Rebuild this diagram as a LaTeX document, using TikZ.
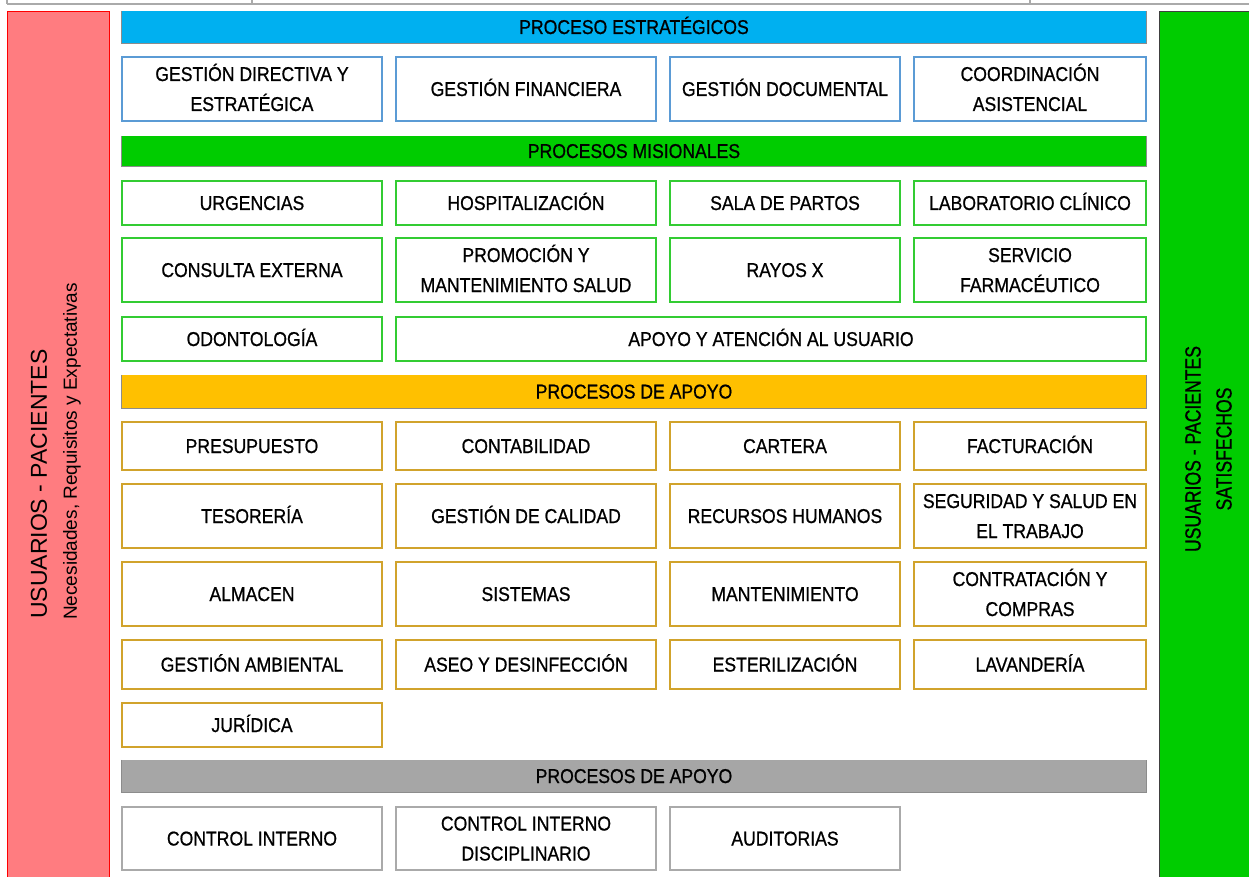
\documentclass[tikz,border=0pt]{standalone}
\usepackage{fontspec}
\setmainfont{Liberation Sans}
\newfontfamily\cellfont[FakeStretch=0.88,FakeBold=0.8]{Liberation Sans}
\newfontfamily\sidefont[FakeStretch=0.8,FakeBold=0.8]{Liberation Sans}

\definecolor{redbar}{HTML}{FF7C80}
\definecolor{greenbar}{HTML}{00CC00}
\definecolor{bluehead}{HTML}{00B0F0}
\definecolor{orangehead}{HTML}{FFC000}
\definecolor{grayhead}{HTML}{A6A6A6}
\definecolor{headline}{HTML}{8C8C8C}
\definecolor{blueline}{HTML}{5B9BD5}
\definecolor{greenline}{HTML}{33CC33}
\definecolor{orangeline}{HTML}{D1A32C}
\definecolor{grayline}{HTML}{AAAAAA}

\tikzset{
	cell/.style={draw=#1, line width=1.2pt, fill=white, inner sep=0pt, align=center,
		text height=14, text depth=0, font=\cellfont\fontsize{20}{30}\selectfont},
	two/.style={text height=44, text depth=0},
	head/.style={fill=#1, inner sep=0pt, minimum width=1024, minimum height=32,
		text height=14, text depth=0, font=\cellfont\fontsize{20}{30}\selectfont},
	wide/.style={minimum width=260},
	narrow/.style={minimum width=230},
	last/.style={minimum width=232}
}

\begin{document}
\begin{tikzpicture}[x=1pt,y=-1pt]
	\useasboundingbox (0,0) rectangle (1249,877);
	%Top cells
	\draw [grayline, line width=1.5pt] (7,4) to (1249,4);
	\draw [grayline, line width=1.2pt] (7,0) to (7,4);
	\draw [grayline, line width=1.2pt] (252,0) to (252,4);
	\draw [grayline, line width=1.2pt] (1030,0) to (1030,4);
	%Side bars
	\node [fill=redbar, draw=red, line width=1pt, minimum width=102, minimum height=870, inner sep=0pt, anchor=north west] (users) at (7,11) {};
	\node [rotate=90, anchor=west, inner sep=0pt, font=\fontsize{23}{24}\selectfont] (usrtxt) at (39,619) {USUARIOS - PACIENTES};
	\node [rotate=90, anchor=west, inner sep=0pt, font=\fontsize{19}{24}\selectfont] (needtxt) at (72,620) {Necesidades, Requisitos y Expectativas};
	\node [fill=greenbar, draw=black!75, line width=1pt, minimum width=95, minimum height=870, inner sep=0pt, anchor=north west] (satisfied) at (1159,11) {};
	\node [rotate=90, inner sep=0pt, font=\sidefont\fontsize{22}{24}\selectfont] (sattxt) at (1193,449) {USUARIOS - PACIENTES};
	\node [rotate=90, inner sep=0pt, font=\sidefont\fontsize{22}{24}\selectfont] (sattxtb) at (1224,449) {SATISFECHOS};
	%Strategic processes
	\node [head=bluehead] (strat) at (634,27) {PROCESO ESTRATÉGICOS};
	\draw [headline, line width=1.2pt] (strat.north west) |- (strat.south east) -- (strat.north east);
	\node [cell=blueline, two, wide, minimum height=64] (gdir) at (252,89) {GESTIÓN DIRECTIVA Y\\ESTRATÉGICA};
	\node [cell=blueline, wide, minimum height=64] (gfin) at (526,89) {GESTIÓN FINANCIERA};
	\node [cell=blueline, narrow, minimum height=64] (gdoc) at (785,89) {GESTIÓN DOCUMENTAL};
	\node [cell=blueline, two, last, minimum height=64] (coord) at (1030,89) {COORDINACIÓN\\ASISTENCIAL};
	%Missional processes
	\node [head=greenbar, minimum height=30] (mision) at (634,151) {PROCESOS MISIONALES};
	\draw [headline, line width=1.2pt] (mision.north west) |- (mision.south east) -- (mision.north east);
	\node [cell=greenline, wide, minimum height=44] (urg) at (252,203) {URGENCIAS};
	\node [cell=greenline, wide, minimum height=44] (hosp) at (526,203) {HOSPITALIZACIÓN};
	\node [cell=greenline, narrow, minimum height=44] (partos) at (785,203) {SALA DE PARTOS};
	\node [cell=greenline, last, minimum height=44] (lab) at (1030,203) {LABORATORIO CLÍNICO};
	\node [cell=greenline, wide, minimum height=64] (consulta) at (252,270) {CONSULTA EXTERNA};
	\node [cell=greenline, two, wide, minimum height=64] (promo) at (526,270) {PROMOCIÓN Y\\MANTENIMIENTO SALUD};
	\node [cell=greenline, narrow, minimum height=64] (rayos) at (785,270) {RAYOS X};
	\node [cell=greenline, two, last, minimum height=64] (farma) at (1030,270) {SERVICIO\\FARMACÉUTICO};
	\node [cell=greenline, wide, minimum height=44] (odonto) at (252,339) {ODONTOLOGÍA};
	\node [cell=greenline, minimum width=750, minimum height=44] (apoyousr) at (771,339) {APOYO Y ATENCIÓN AL USUARIO};
	%Support processes
	\node [head=orangehead, minimum height=33] (apoyo) at (634,391.5) {PROCESOS DE APOYO};
	\draw [headline, line width=1.2pt] (apoyo.north west) |- (apoyo.south east) -- (apoyo.north east);
	\node [cell=orangeline, wide, minimum height=48] (presup) at (252,446) {PRESUPUESTO};
	\node [cell=orangeline, wide, minimum height=48] (conta) at (526,446) {CONTABILIDAD};
	\node [cell=orangeline, narrow, minimum height=48] (cartera) at (785,446) {CARTERA};
	\node [cell=orangeline, last, minimum height=48] (fact) at (1030,446) {FACTURACIÓN};
	\node [cell=orangeline, wide, minimum height=64] (teso) at (252,516) {TESORERÍA};
	\node [cell=orangeline, wide, minimum height=64] (calidad) at (526,516) {GESTIÓN DE CALIDAD};
	\node [cell=orangeline, narrow, minimum height=64] (rrhh) at (785,516) {RECURSOS HUMANOS};
	\node [cell=orangeline, two, last, minimum height=64] (sst) at (1030,516) {SEGURIDAD Y SALUD EN\\EL TRABAJO};
	\node [cell=orangeline, wide, minimum height=64] (almacen) at (252,594) {ALMACEN};
	\node [cell=orangeline, wide, minimum height=64] (sist) at (526,594) {SISTEMAS};
	\node [cell=orangeline, narrow, minimum height=64] (mant) at (785,594) {MANTENIMIENTO};
	\node [cell=orangeline, two, last, minimum height=64] (contrat) at (1030,594) {CONTRATACIÓN Y\\COMPRAS};
	\node [cell=orangeline, wide, minimum height=49] (ambiental) at (252,664.5) {GESTIÓN AMBIENTAL};
	\node [cell=orangeline, wide, minimum height=49] (aseo) at (526,664.5) {ASEO Y DESINFECCIÓN};
	\node [cell=orangeline, narrow, minimum height=49] (ester) at (785,664.5) {ESTERILIZACIÓN};
	\node [cell=orangeline, last, minimum height=49] (lavand) at (1030,664.5) {LAVANDERÍA};
	\node [cell=orangeline, wide, minimum height=44] (juridica) at (252,725) {JURÍDICA};
	%Control processes
	\node [head=grayhead] (control) at (634,776) {PROCESOS DE APOYO};
	\draw [headline, line width=1.2pt] (control.north west) |- (control.south east) -- (control.north east);
	\node [cell=grayline, wide, minimum height=63] (cint) at (252,838.5) {CONTROL INTERNO};
	\node [cell=grayline, two, wide, minimum height=63] (cdisc) at (526,838.5) {CONTROL INTERNO\\DISCIPLINARIO};
	\node [cell=grayline, narrow, minimum height=63] (audit) at (785,838.5) {AUDITORIAS};
\end{tikzpicture}
\end{document}
